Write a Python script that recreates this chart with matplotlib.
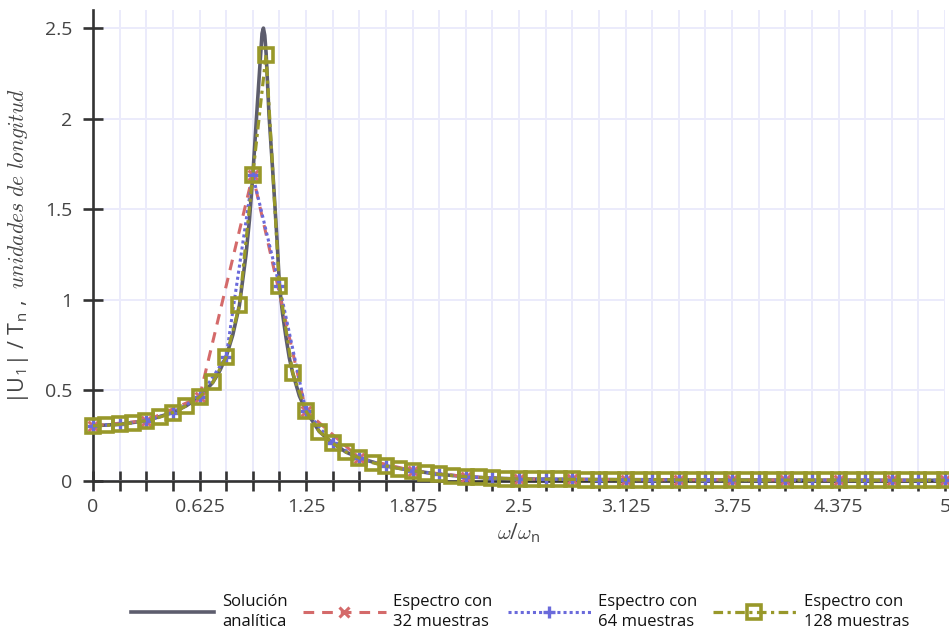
import matplotlib
matplotlib.use("Agg")
import matplotlib.pyplot as plt

plt.rcParams["font.family"] = ["Open Sans", "DejaVu Sans"]
plt.rcParams["mathtext.fontset"] = "cm"

# frequency ratio of the 128-sample spectrum (step 5/64)
w_128 = [k * 5 / 64 for k in range(65)]
u_128 = [
    0.305, 0.307, 0.313, 0.321, 0.333, 0.352, 0.378, 0.415, 0.463, 0.544,
    0.685, 0.969, 1.689, 2.353, 1.076, 0.596, 0.386, 0.273, 0.209, 0.160,
    0.127, 0.101, 0.083, 0.069, 0.057, 0.046, 0.037, 0.030, 0.024, 0.020,
    0.016, 0.013, 0.011, 0.010, 0.010, 0.009, 0.009, 0.008, 0.008, 0.008,
    0.007, 0.007, 0.007, 0.007, 0.006, 0.006, 0.006, 0.006, 0.006, 0.005,
    0.005, 0.005, 0.005, 0.005, 0.005, 0.005, 0.005, 0.004, 0.004, 0.004,
    0.004, 0.004, 0.004, 0.004, 0.004,
]

# the coarser spectra fall on every 2nd / 4th bin of the fine one
w_64 = w_128[::2]
u_64 = u_128[::2]
w_32 = w_128[::4]
u_32 = u_128[::4]

# analytic amplitude
w_an = [0.0, 0.156, 0.313, 0.469, 0.547, 0.625, 0.703, 0.742, 0.781, 0.820,
        0.859, 0.898, 0.918, 0.938, 0.959, 0.980, 0.992, 1.000, 1.008, 1.016,
        1.033, 1.059, 1.080, 1.094, 1.113, 1.133, 1.152, 1.172, 1.211, 1.250,
        1.328, 1.406, 1.484, 1.563, 1.719, 1.875, 2.031, 2.188, 2.344, 2.500,
        3.000, 3.500, 4.000, 4.500, 5.000]
u_an = [0.305, 0.313, 0.333, 0.378, 0.415, 0.463, 0.544, 0.605, 0.685, 0.805,
        0.969, 1.250, 1.440, 1.689, 2.000, 2.300, 2.470, 2.500, 2.460, 2.360,
        2.020, 1.650, 1.330, 1.080, 0.920, 0.790, 0.680, 0.596, 0.470, 0.386,
        0.273, 0.209, 0.160, 0.127, 0.083, 0.057, 0.037, 0.024, 0.016, 0.011,
        0.008, 0.006, 0.005, 0.004, 0.004]

xtick_vals = [k * 5 / 32 for k in range(33)]
xtick_txt = ["0", "0.625", "1.25", "1.875", "2.5", "3.125", "3.75", "4.375", "5"]
ytick_vals = [0, 0.5, 1, 1.5, 2, 2.5]
ytick_txt = ["0", "0.5", "1", "1.5", "2", "2.5"]

c_an = "#5d5d6d"
c_32 = "#d46a6a"
c_64 = "#6a6adb"
c_128 = "#98982a"

fig = plt.figure(figsize=(9.49, 6.35), dpi=100)
ax = fig.add_axes([93 / 949, 1 - 481 / 635, 852 / 949, 471 / 635])

ax.plot(w_an, u_an, color=c_an, lw=2.6, solid_joinstyle="round",
        label="Solución\nanalítica", zorder=3)
ax.plot(w_32, u_32, color=c_32, lw=2.2, ls=(0, (3.5, 2.6)), marker="x",
        ms=7, mew=2.2, label="Espectro con\n32 muestras", zorder=4, clip_on=False)
ax.plot(w_64, u_64, color=c_64, lw=2.2, ls=(0, (1, 1)), marker="+",
        ms=9, mew=2.4, label="Espectro con\n64 muestras", zorder=5, clip_on=False)
ax.plot(w_128, u_128, color=c_128, lw=2.3, ls=(0, (3, 1.4, 1, 1.4)), marker="s",
        ms=9.5, mew=2.6, mfc="none", label="Espectro con\n128 muestras",
        zorder=6, clip_on=False)

ax.set_xlim(0, 5)
ax.set_ylim(0, 2.6)

ax.set_xticks(xtick_vals)
ax.set_xticklabels([xtick_txt[i // 4] if i % 4 == 0 else "" for i in range(33)])
ax.set_yticks(ytick_vals)
ax.set_yticklabels(ytick_txt)

ax.grid(True, color="#ebebfb", lw=1.4, zorder=0)
ax.set_axisbelow(True)

for side in ("top", "right"):
    ax.spines[side].set_visible(False)
for side in ("left", "bottom"):
    ax.spines[side].set_color("#333333")
    ax.spines[side].set_linewidth(1.9)
    ax.spines[side].set_zorder(2)

ax.tick_params(axis="both", direction="inout", length=14, width=1.9,
               color="#333333", labelcolor="#444444", labelsize=14)
ax.tick_params(axis="x", pad=5)
ax.tick_params(axis="y", pad=8)

ax.set_xlabel(r"$\omega$/$\omega_\mathregular{n}$", fontsize=15,
              color="#444444", labelpad=4)
ax.set_ylabel(r"|U$_\mathregular{1}$| / T$_\mathregular{n}$ ,  "
              r"$unidades\ de\ longitud$",
              fontsize=15.5, color="#444444", labelpad=10)

leg = fig.legend(loc="center", bbox_to_anchor=(520 / 949, 1 - 612 / 635), ncol=4,
                 frameon=False, fontsize=12, handlelength=5.0, handletextpad=0.45,
                 columnspacing=0.9, numpoints=1, labelcolor="#111111")
for t in leg.get_texts():
    t.set_linespacing(1.35)

fig.savefig("out.png", dpi=100)
